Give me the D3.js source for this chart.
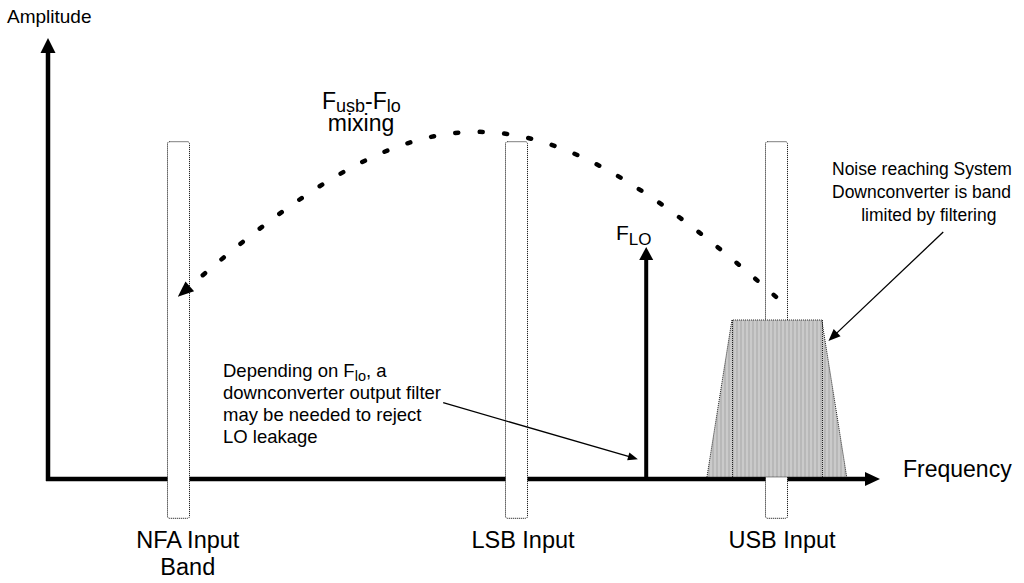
<!DOCTYPE html>
<html><head><meta charset="utf-8">
<script src="https://cdn.jsdelivr.net/npm/d3@7"></script>
<style>
body{margin:0;background:#fff}
svg{display:block}
text{font-family:"Liberation Sans",Arial,Helvetica,sans-serif;fill:#000}
</style>
</head><body>
<svg id="c" width="1024" height="583"></svg>
<script>
// ---- data (frequency units 0..100, amplitude units 0..1) ----
const bandLabels = [["NFA Input", "Band"], ["LSB Input"], ["USB Input"]];
const bandCenters = [15.6, 56.25, 87.5];
const bandHalfWidth = 1.3;
const bandAmpRange = [-0.088, 0.766];
const loFreq = 71.9;
const loAmp = 0.526;
const noiseFreq = [79.2, 82.2, 93.0, 96.0];
const noiseAmp = [0, 0.356, 0.356, 0];
const mixFreq = [87.5, 57.6, 45.6, 15.6];
const mixAmp = [0.413, 0.912, 0.912, 0.413];
const loLeaderFreq = [47.5, 70.9];
const loLeaderAmp = [0.173, 0.045];
const noiseLeaderFreq = [107.6, 93.8];
const noiseLeaderAmp = [0.56, 0.313];
const loNote = ["Depending on F|lo|, a", "downconverter output filter", "may be needed to reject", "LO leakage"];
const noiseNote = ["Noise reaching System", "Downconverter is band", "      limited by filtering"];

const svg = d3.select("#c");
const x = d3.scaleLinear().domain([0, 100]).range([48, 880]);
const y = d3.scaleLinear().domain([0, 1]).range([479, 38]);

const defs = svg.append("defs");
const pat = defs.append("pattern").attr("id", "stripes").attr("patternUnits", "userSpaceOnUse")
  .attr("width", 4).attr("height", 4);
pat.append("rect").attr("x", 0).attr("y", 0).attr("width", 2).attr("height", 4).attr("fill", "#b8b8b8");
pat.append("rect").attr("x", 2).attr("y", 0).attr("width", 2).attr("height", 4).attr("fill", "#cacaca");

function arrow(g, x0, y0, x1, y1, w, hl, hw) {
  const dx = x1 - x0, dy = y1 - y0, L = Math.hypot(dx, dy), ux = dx / L, uy = dy / L;
  const bx = x1 - ux * hl, by = y1 - uy * hl;
  g.append("line").attr("x1", x0).attr("y1", y0).attr("x2", bx + ux).attr("y2", by + uy)
    .attr("stroke", "#000").attr("stroke-width", w);
  g.append("path").attr("d", `M${x1},${y1}L${bx - uy * hw / 2},${by + ux * hw / 2}L${bx + uy * hw / 2},${by - ux * hw / 2}Z`)
    .attr("fill", "#000");
}

// axes
const ax = svg.append("g");
arrow(ax, x(0), y(0) + 2, x(0), y(1), 4.5, 15, 15);
arrow(ax, x(0) - 2, y(0), 880, y(0), 4.5, 15, 14);

// bands
svg.append("g").selectAll("rect").data(bandCenters).join("rect")
  .attr("x", d => Math.round(x(d - bandHalfWidth)) + 0.5)
  .attr("y", y(bandAmpRange[1]) + 0.5)
  .attr("width", d => Math.round(x(d + bandHalfWidth) - x(d - bandHalfWidth)))
  .attr("height", y(bandAmpRange[0]) - y(bandAmpRange[1]))
  .attr("rx", 2)
  .attr("fill", "#fff").attr("stroke", "#000").attr("stroke-width", 1).attr("stroke-dasharray", "1,1");

// noise trapezoid
const pts = noiseFreq.map((f, i) => [x(f), y(noiseAmp[i]) - 2]);
svg.append("path").attr("d", d3.line()(pts) + "Z")
  .attr("fill", "url(#stripes)").attr("stroke", "#222").attr("stroke-width", 1).attr("stroke-dasharray", "1,1");
[1, 2].forEach(i => {
  svg.append("line").attr("x1", Math.round(x(noiseFreq[i])) + 0.5).attr("x2", Math.round(x(noiseFreq[i])) + 0.5)
    .attr("y1", y(noiseAmp[i]) - 2).attr("y2", y(0) - 2)
    .attr("stroke", "#222").attr("stroke-width", 1).attr("stroke-dasharray", "1,1");
});

// LO arrow
arrow(svg.append("g"), x(loFreq), y(0), x(loFreq), y(loAmp), 4, 13, 14);

// mixing arc
const mp = mixFreq.map((f, i) => [x(f), y(mixAmp[i])]);
svg.append("path")
  .attr("d", `M${mp[0][0]},${mp[0][1]}C${mp[1][0]},${mp[1][1]} ${mp[2][0]},${mp[2][1]} ${mp[3][0]},${mp[3][1]}`)
  .attr("fill", "none").attr("stroke", "#000").attr("stroke-width", 4.5)
  .attr("stroke-linecap", "round").attr("stroke-dasharray", "3,21.5");
{
  const dx = mp[3][0] - mp[2][0], dy = mp[3][1] - mp[2][1], L = Math.hypot(dx, dy), ux = dx / L, uy = dy / L;
  const hl = 16, hw = 13, bx = mp[3][0] - ux * hl, by = mp[3][1] - uy * hl;
  svg.append("path").attr("d", `M${mp[3][0]},${mp[3][1]}L${bx - uy * hw / 2},${by + ux * hw / 2}L${bx + uy * hw / 2},${by - ux * hw / 2}Z`).attr("fill", "#000");
}

// leader arrows
arrow(svg.append("g"), x(loLeaderFreq[0]), y(loLeaderAmp[0]), x(loLeaderFreq[1]), y(loLeaderAmp[1]), 1.3, 10, 8);
arrow(svg.append("g"), x(noiseLeaderFreq[0]), y(noiseLeaderAmp[0]), x(noiseLeaderFreq[1]), y(noiseLeaderAmp[1]), 1.3, 12, 10);

// texts
function sub(t, parts, small, shift) {
  parts.forEach((p, i) => {
    const ts = t.append("tspan").text(p);
    if (i % 2 === 1) ts.attr("font-size", small).attr("dy", shift);
    else if (i > 0) ts.attr("dy", -shift);
  });
}
svg.append("text").attr("x", 7).attr("y", 23).attr("font-size", 19).text("Amplitude");
svg.append("text").attr("x", 903).attr("y", 477).attr("font-size", 23).text("Frequency");

const offs = [10, 7, 6];
bandLabels.forEach((lines, i) => {
  lines.forEach((s, j) => {
    svg.append("text").attr("x", x(bandCenters[i]) + offs[i]).attr("y", 548 + j * 27)
      .attr("text-anchor", "middle").attr("font-size", 23.5).text(s);
  });
});

const mt = svg.append("text").attr("x", 322).attr("y", 109).attr("font-size", 23);
sub(mt, ["F", "usb", "-F", "lo"], 18, 3);
svg.append("text").attr("x", 361).attr("y", 131).attr("text-anchor", "middle").attr("font-size", 23).text("mixing");

const ft = svg.append("text").attr("x", 616).attr("y", 240).attr("font-size", 21);
sub(ft, ["F", "LO"], 17, 5);

loNote.forEach((s, j) => {
  const t = svg.append("text").attr("x", 223).attr("y", 377 + j * 22).attr("font-size", 18.5);
  sub(t, s.split("|"), 14.5, 4);
});
noiseNote.forEach((s, j) => {
  svg.append("text").attr("x", 832).attr("y", 175 + j * 23).attr("font-size", 17.5)
    .style("white-space", "pre").text(s);
});
</script>
</body></html>
